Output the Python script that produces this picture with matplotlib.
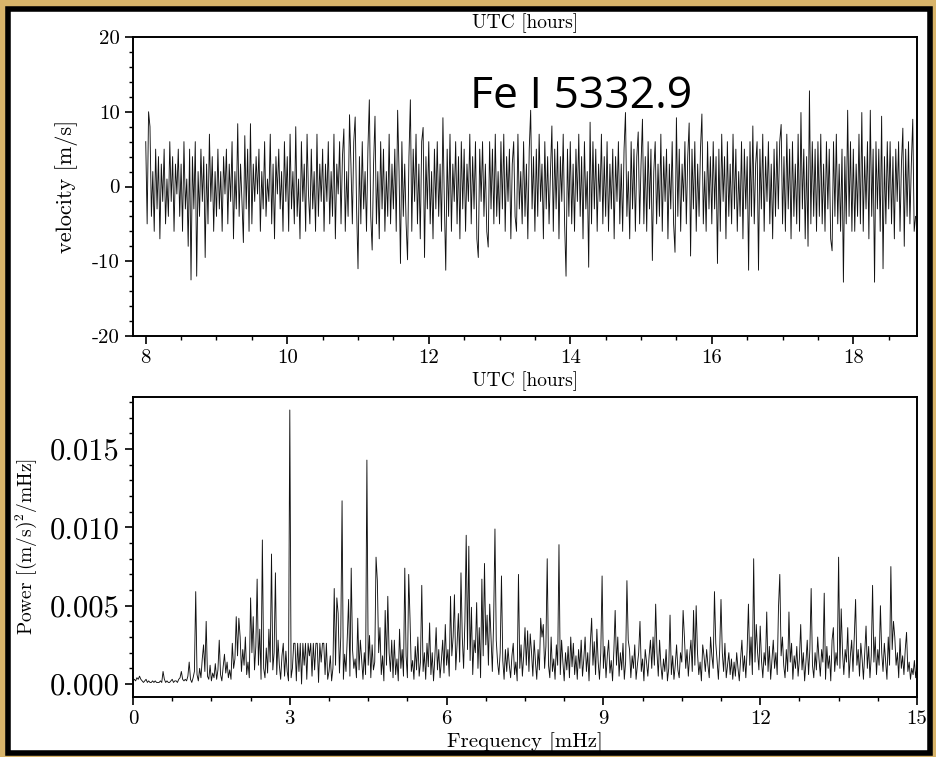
import numpy as np
import matplotlib
matplotlib.use("Agg")
import matplotlib.pyplot as plt
from matplotlib.patches import Rectangle
from matplotlib.ticker import MultipleLocator

# ---------------- data ----------------
t_start = 8.0      # UTC hours of first sample
t_step = 0.02      # hours between samples
velocity = [
    6, -5, 10, 8, -4, 2, -6, 5, -3, 4, -7, 3, -2, 5, -5, 1, -4, 6, -2, 4, -6, 3, -1, 5, -4,
    3, -6, 6, -3, 1, -8, 5, -12.5, 4, -3, 6, -12, 2, -4, 5, -2, 4, -9.5, 3, -5, 7, -2, 4, -6, 2,
    -4, 5, -3, 2, -6, 4, -1, 5, -5, 3, -2, 6, -7, 2, -3, 8.4, -4, 3, -2, -7.5, 6.8, -3, 5, -6, 8.4,
    -5, 3, -2, 4, -1, 5, -6, 2, -3, 6, -4, 1, -2, 7, -5, 3, -7, 4, -1, 5, -3, 2, -6, 6, -2,
    4, -6, 7, -3, 2, -5, 8, -4, 1, -7, 6, -2, 3, -6, 7, -1, -5, 5, -3, 2, -6, 7, -4, 3, -2,
    5, -6, 3, -2, 6, -5, 2, -4, 7, -7, 3, -1, 6, -5, 4, 7.7, -6, 2, -4, 9.6, 3, -5, 6, 9.3, -3,
    -11, 4, -5, 6, -3, 2, -6, 5, 11.6, -4, -8.5, 3, 9.4, -5, 2, -7, 6, -3, 5, -6, 2, -4, 7, -5, 3,
    -3, 5, -6, 10.2, 2, -10.3, 6, -4, 3, -5, -9.8, 4, 11.6, -6, 5, -2, 7, -5, 3, -7, 6, 7.9, -9.5, 4, -3,
    6, -5, 2, -7, 5, -3, 6, -4, 3, -6, 9.2, -2, -11.2, 5, -4, 7, -6, 3, -2, 6, -5, 4, -7, 6, -3,
    5, -6, 3, -2, 7, -5, 4, -3, 6, -7, -9.5, 5, -2, 6, -4, 3, -6, -8.1, 6, -3, 5, -5, 7, -4, 2,
    -5, 6, -3, 7, -6, 4, -2, 5, -7, 3, 6, -4, -6, 7, -3, 2, -5, 6, -4, 3, -7, 5, 10.2, -3, 4,
    -6, 5, -4, 7, -2, 3, -7, 6, -3, 4, -5, 2, 8.1, -6, 5, -3, 6, -7, 4, -2, 7, -5, -12, 5, -4,
    6, -5, 3, -6, 5, -2, 7, -4, 4, -7, 6, -3, 2, -10.8, 8.6, -5, 6, -3, 5, -6, 3, -2, 7, -5, 4,
    -4, 6, -6, 3, -3, 5, -7, 4, -2, 6, -5, 3, -6, 5, 9.9, -4, 2, -7, 6, -3, 5, -6, 4, 7.3, -5,
    3, 9.0, -5, 4, -6, 6, -3, 5, -9.9, 2, 6, -5, 3, -4, 7, -6, 4, -2, 5, -7, 3, -3, 6, -5, -8.8,
    9.2, -4, 5, -6, 3, -2, 6, -5, 4, 8.5, -9.3, 5, -3, 6, -6, 3, -4, 5, 9.7, -5, 2, -6, 6, -3, 4,
    -5, 6, -3, 4, -10.3, 5, -6, 7, -2, 4, -7, 6, -4, 3, -5, 7, -3, 5, -6, 2, -4, 6, -7, 5, -3,
    4, -11.2, 6, -4, 8.1, -5, 3, 6, -11.2, 5, -3, 7, -6, 4, -2, 6, -5, 3, -7, 5, -4, 6, -3, 6, 8.3,
    -5, 4, -6, 7, -3, 5, -7, 6, -4, 3, -5, 7, -6, 9.9, -3, 5, -7, 4, -8, 12.8, -5, 6, -4, 5, -6,
    6, -4, 7, -5, 3, -6, 6, -3, 5, -7, -8.6, 6, -4, 7, -5, 3, -6, 5, -12.8, 4, -5, 10.2, -4, 6, -6,
    5, -6, 3, -4, 7, -5, 9.9, -6, 4, -3, 6, -7, 10.2, -4, 5, -12.8, 6, -3, 5, -6, 9.4, -11, 4, -5, 6,
    -3, 6, -5, 4, -7, 5, -2, 6, -6, 3, 7.8, -8, 5, -4, 6, -5, 3, 9, -6, -4,
]

f_step = 0.025     # mHz between spectrum bins
power_e4 = [       # power in units of 1e-4 (m/s)^2/mHz
    2, 3, 2, 4, 3, 5, 3, 2, 1, 2, 3, 1, 2, 1, 1, 2, 1, 2, 1, 1,
    1, 2, 1, 8, 3, 1, 2, 1, 1, 2, 3, 1, 2, 2, 1, 3, 4, 8, 3, 2,
    3, 2, 5, 14, 3, 1, 4, 8, 59, 6, 2, 10, 4, 16, 25, 8, 40, 5, 3, 12,
    2, 7, 4, 13, 3, 9, 28, 6, 2, 11, 19, 7, 14, 4, 9, 3, 26, 10, 16, 43,
    18, 42, 30, 8, 22, 12, 30, 6, 14, 4, 55, 20, 43, 9, 24, 67, 12, 35, 3, 92,
    10, 4, 23, 7, 35, 14, 83, 9, 20, 71, 6, 28, 12, 3, 18, 26, 5, 21, 8, 2,
    175, 4, 10, 26, 26, 2, 26, 8, 26, 0, 26, 12, 26, 3, 26, 18, 26, 5, 26, 9,
    26, 26, 1, 26, 14, 26, 26, 6, 26, 3, 8, 18, 2, 10, 61, 12, 55, 45, 7, 30,
    117, 3, 19, 8, 30, 54, 5, 74, 22, 10, 16, 4, 42, 9, 28, 16, 3, 20, 6, 143,
    12, 31, 4, 25, 9, 14, 81, 66, 20, 36, 6, 18, 2, 47, 12, 56, 20, 8, 28, 4,
    28, 6, 16, 2, 35, 10, 22, 5, 74, 18, 4, 70, 42, 8, 15, 3, 24, 9, 30, 5,
    14, 63, 8, 20, 3, 26, 11, 39, 6, 20, 2, 17, 36, 9, 22, 4, 15, 28, 7, 38,
    12, 22, 5, 56, 18, 30, 57, 9, 25, 45, 14, 71, 30, 10, 40, 95, 22, 88, 15, 49,
    6, 28, 20, 52, 10, 36, 4, 67, 18, 77, 25, 44, 12, 51, 30, 8, 40, 99, 28, 14,
    6, 20, 69, 15, 3, 22, 8, 23, 12, 4, 18, 26, 6, 14, 2, 70, 10, 25, 5, 18,
    36, 12, 34, 8, 32, 20, 5, 28, 14, 3, 22, 9, 42, 30, 38, 10, 24, 80, 12, 4,
    30, 8, 16, 3, 25, 12, 89, 6, 28, 14, 2, 20, 9, 24, 4, 30, 11, 26, 6, 18,
    3, 22, 10, 28, 5, 16, 30, 8, 20, 2, 26, 42, 12, 27, 6, 35, 14, 3, 20, 69,
    10, 24, 4, 18, 28, 7, 15, 2, 21, 47, 12, 30, 5, 20, 9, 26, 3, 14, 66, 28,
    22, 4, 18, 10, 25, 3, 12, 20, 40, 8, 16, 2, 22, 14, 5, 18, 28, 10, 30, 12,
    51, 20, 5, 28, 12, 3, 16, 8, 22, 2, 10, 44, 6, 18, 3, 12, 25, 9, 4, 20,
    14, 47, 30, 10, 22, 5, 18, 28, 8, 47, 12, 50, 20, 6, 14, 2, 25, 18, 8, 22,
    12, 4, 30, 18, 10, 59, 26, 15, 3, 22, 54, 20, 8, 26, 4, 12, 20, 6, 16, 3,
    14, 5, 20, 10, 2, 16, 28, 8, 18, 4, 22, 51, 12, 30, 6, 80, 14, 38, 20, 9,
    37, 15, 4, 20, 12, 46, 8, 24, 3, 16, 28, 10, 20, 6, 49, 70, 18, 30, 12, 4,
    22, 8, 46, 14, 26, 3, 18, 10, 24, 5, 16, 38, 9, 20, 2, 14, 28, 6, 22, 61,
    12, 4, 20, 9, 30, 16, 5, 22, 14, 58, 3, 24, 10, 18, 2, 28, 36, 8, 20, 12,
    81, 10, 48, 20, 6, 22, 14, 36, 4, 18, 28, 8, 30, 54, 12, 22, 5, 26, 16, 3,
    20, 37, 10, 24, 4, 18, 63, 14, 30, 6, 22, 12, 50, 20, 8, 26, 14, 3, 30, 12,
    75, 22, 40, 30, 12, 20, 4, 29, 10, 18, 6, 22, 33, 8, 14, 3, 10, 6, 15, 4,
    12,
]

label_text = "Fe I 5332.9"

# ---------------- derived arrays ----------------
time_hours = t_start + t_step * np.arange(len(velocity))
freq = f_step * np.arange(len(power_e4))
power = np.array(power_e4, dtype=float) * 1e-4

# ---------------- style ----------------
plt.rcParams["font.family"] = ["cmr10", "DejaVu Serif"]
plt.rcParams["mathtext.fontset"] = "cm"
plt.rcParams["axes.unicode_minus"] = False
plt.rcParams["axes.formatter.use_mathtext"] = False

W, H = 936, 757
fig = plt.figure(figsize=(W / 100, H / 100), dpi=100)
fig.patch.set_facecolor("#d8b46a")

# white panel with black frame
frame = Rectangle((8 / W, 4 / H), (930 - 8) / W, (748 - 4) / H,
                  transform=fig.transFigure, facecolor="white",
                  edgecolor="black", linewidth=4, zorder=0)
fig.add_artist(frame)

ax1 = fig.add_axes([133 / W, 1 - 336 / H, (917 - 133) / W, (336 - 37) / H])
ax2 = fig.add_axes([133 / W, 1 - 697 / H, (917 - 133) / W, (697 - 397) / H])

for ax in (ax1, ax2):
    for s in ax.spines.values():
        s.set_linewidth(1.4)
    ax.tick_params(which="major", direction="out", length=6, width=1.2)
    ax.tick_params(which="minor", direction="out", length=3, width=1.0)

line_color = "#111111"

# ---- top: velocity time series ----
ax1.plot(time_hours, velocity, color=line_color, lw=0.65)
ax1.set_xlim(7.82, 18.9)
ax1.set_ylim(-20, 20)
ax1.xaxis.set_major_locator(MultipleLocator(2))
ax1.xaxis.set_minor_locator(MultipleLocator(0.5))
ax1.yaxis.set_major_locator(MultipleLocator(10))
ax1.yaxis.set_minor_locator(MultipleLocator(2))
ax1.tick_params(labelsize=15)
ax1.set_xlabel("UTC [hours]", fontsize=14, labelpad=3)
ax1.set_ylabel("velocity [m/s]", fontsize=16, labelpad=10)
ax1.text(0.5, 1.012, "UTC [hours]", transform=ax1.transAxes,
         ha="center", va="bottom", fontsize=14)
ax1.text(0.43, 0.80, label_text, transform=ax1.transAxes, ha="left",
         va="center", fontsize=32, family=["Open Sans", "DejaVu Sans"])

# ---- bottom: power spectrum ----
ax2.plot(freq, power, color=line_color, lw=0.65)
ax2.set_xlim(0, 15)
ax2.set_ylim(-0.00083, 0.01833)
ax2.xaxis.set_major_locator(MultipleLocator(3))
ax2.xaxis.set_minor_locator(MultipleLocator(0.75))
ax2.yaxis.set_major_locator(MultipleLocator(0.005))
ax2.yaxis.set_minor_locator(MultipleLocator(0.001))
ax2.tick_params(axis="x", labelsize=15)
ax2.tick_params(axis="y", labelsize=22)
ax2.set_xlabel("Frequency [mHz]", fontsize=15, labelpad=3)
ax2.set_ylabel(r"Power [(m/s)$^2$/mHz]", fontsize=14, labelpad=8)

fig.savefig("out.png", dpi=100, facecolor=fig.get_facecolor())
